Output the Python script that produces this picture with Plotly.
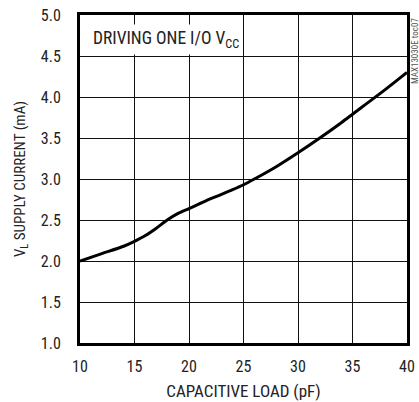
import plotly.graph_objects as go

cap_load_pf = [10, 12, 14, 15, 16, 17, 18, 19, 20, 22, 24, 25, 26, 28, 30, 32, 34, 35, 36, 38, 40]
supply_ma = [2.00, 2.09, 2.18, 2.24, 2.31, 2.40, 2.50, 2.58, 2.64, 2.76, 2.87, 2.93, 3.00, 3.15, 3.32, 3.50, 3.69, 3.79, 3.89, 4.09, 4.30]
x_ticks = [10, 15, 20, 25, 30, 35, 40]
y_ticks = [1.0, 1.5, 2.0, 2.5, 3.0, 3.5, 4.0, 4.5, 5.0]

FONT = "Roboto Condensed, Liberation Sans Narrow, Arial Narrow, Liberation Sans, sans-serif"

fig = go.Figure()
fig.add_trace(go.Scatter(x=cap_load_pf, y=supply_ma, mode="lines",
                         line=dict(color="black", width=3, shape="spline", smoothing=0.8),
                         showlegend=False, hoverinfo="skip"))

fig.update_xaxes(range=[10, 40], tickmode="array", tickvals=x_ticks,
                 ticktext=[str(v) for v in x_ticks], automargin=False,
                 showgrid=True, gridcolor="#111111", gridwidth=1,
                 showline=True, linecolor="black", linewidth=3, mirror=True,
                 zeroline=False, tickfont=dict(size=16), ticklabelstandoff=7,
                 title=dict(text="CAPACITIVE LOAD (pF)", font=dict(size=17), standoff=10))
fig.update_yaxes(range=[1.0, 5.0], tickmode="array", tickvals=y_ticks,
                 ticktext=[f"{v:.1f}" for v in y_ticks], automargin=False,
                 showgrid=True, gridcolor="#111111", gridwidth=1,
                 showline=True, linecolor="black", linewidth=3, mirror=True,
                 zeroline=False, tickfont=dict(size=16), ticklabelstandoff=13,
                 title=dict(text="V<sub>L</sub> SUPPLY CURRENT (mA)", font=dict(size=15), standoff=12))

fig.update_layout(
    width=419, height=402,
    margin=dict(l=80, r=12, t=15, b=59),
    paper_bgcolor="white", plot_bgcolor="white",
    font=dict(family=FONT, size=15, color="#222"),
    annotations=[
        dict(text="DRIVING ONE I/O V<sub>CC</sub>", xref="paper", yref="paper",
             x=0.027, y=0.926, xanchor="left", yanchor="middle", showarrow=False,
             bgcolor="white", borderpad=3, font=dict(size=17.5, color="#222")),
        dict(text="MAX13030E toc07", xref="paper", yref="paper",
             x=1.0, y=0.89, xanchor="center", yanchor="middle", xshift=8,
             showarrow=False, textangle=-90, font=dict(size=9, color="#555")),
    ],
)

fig.write_html("out.html", config={"displayModeBar": False},
               post_script="document.body.style.margin='0';")
